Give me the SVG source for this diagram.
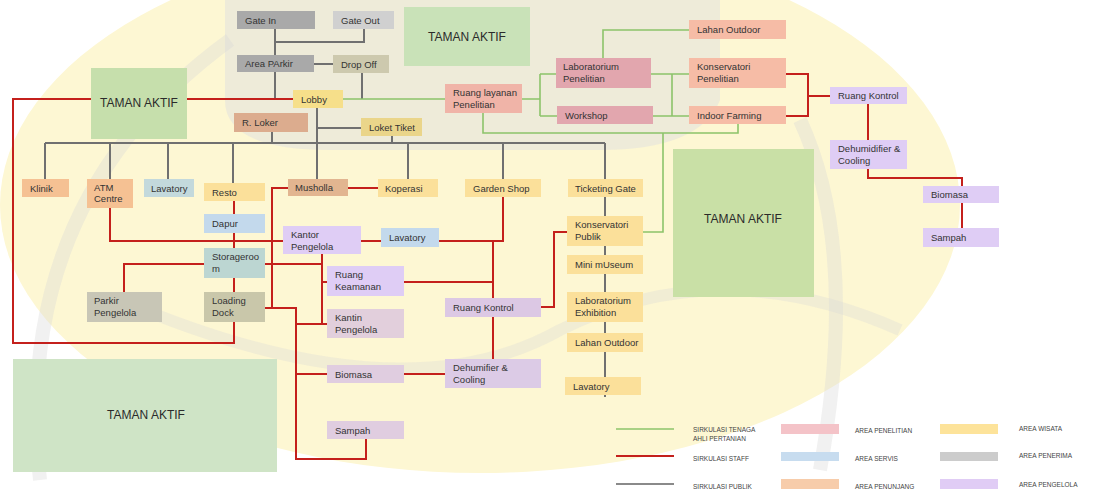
<svg xmlns="http://www.w3.org/2000/svg" width="1093" height="490" viewBox="0 0 1093 490">
  <style>
    text { font-family: "Liberation Sans", Arial, sans-serif; font-size: 9.5px; fill: #333; }
    .park text, text.park { font-size: 12px; fill: #2b2b2b; text-anchor: middle; }
    .leg { font-size: 6.5px; fill: #444; }
    .pub { fill: none; stroke: #707070; stroke-width: 2; }
    .stf { fill: none; stroke: #c4201c; stroke-width: 2; }
    .ahli { fill: none; stroke: #8cc46a; stroke-width: 1.6; }
    .penerima { fill: #a9a9a9; }
    .penerima2 { fill: #d0d0d0; }
    .wisata { fill: #fbe09a; }
    .servis { fill: #c3d9ec; }
    .penunjang { fill: #f5c193; }
    .peneliti { fill: #e2a6ae; }
    .penunjang2 { fill: #f6bca6; }
    .pengelola { fill: #dfcdf5; }
    .pengelola2 { fill: #e0cde0; }
  </style>

  <rect width="1093" height="490" fill="#ffffff"/>

  <!-- faint seal watermark behind the plan -->
  <g id="watermark">
    <ellipse cx="480" cy="205" rx="480" ry="268" fill="#fdf7d3"/>
    <path d="M225,0 H720 V100 Q700,150 600,150 H330 Q225,150 225,100 Z" fill="#e0e0e0" opacity="0.5"/>
    <path d="M40,480 Q10,200 230,40" fill="none" stroke="#d6d6d6" stroke-width="14" opacity="0.35"/>
    <path d="M820,470 Q860,250 800,120" fill="none" stroke="#d6d6d6" stroke-width="14" opacity="0.35"/>
    <path d="M120,300 Q400,420 560,330 Q720,250 900,330" fill="none" stroke="#d6d6d6" stroke-width="12" opacity="0.3"/>
  </g>

  <!-- open park areas -->
  <g id="taman-kiri"><rect x="91" y="68" width="96" height="71" fill="#c6dfac"/><text class="park" x="139" y="107">TAMAN AKTIF</text></g>
  <g id="taman-atas"><rect x="404" y="7" width="126" height="59" fill="#c9e2b8"/><text class="park" x="467" y="41">TAMAN AKTIF</text></g>
  <g id="taman-kanan"><rect x="673" y="149" width="141" height="148" fill="#c9e0a6"/><text class="park" x="743" y="223">TAMAN AKTIF</text></g>
  <g id="taman-bawah"><rect x="13" y="359" width="264" height="113" fill="#cfe4c6"/><text class="park" x="146" y="419">TAMAN AKTIF</text></g>

  <!-- circulation lines -->
  <g id="connectors">
    <!-- public circulation -->
    <path class="pub" d="M275,29 V55 M275,42 H364 V29 M314,64 H333 M275,72 V99 M362,73 V99"/>
    <path class="pub" d="M317,108 V179 M317,128 H361 M45,143 H605 M272,132 V143 M392,136 V143"/>
    <path class="pub" d="M45,143 V179 M110,143 V179 M168,143 V179 M233,143 V183 M408,143 V179 M503,143 V179 M605,143 V397"/>

    <!-- research staff circulation -->
    <path class="ahli" d="M343,99 H445 M522,99 H540 M540,74 V116 M540,74 H556 M540,116 H557"/>
    <path class="ahli" d="M603,58 V30 H689 M651,74 H689 M653,116 H689 M672,74 V116"/>
    <path class="ahli" d="M483,113 V133 H738 V124 M663,133 V232 H643"/>

    <!-- staff circulation -->
    <path class="stf" d="M293,99 H187 M91,99 H13 V343 H234 V322"/>
    <path class="stf" d="M786,74 H808 V116 H786 M808,96 H830 M868,104 V140 M868,169 V178 H962 V186 M962,203 V228"/>
    <path class="stf" d="M234,201 V292 M110,208 V241 H283 M361,241 H382 M439,241 H503 V197 M493,241 V298 M404,282 H493"/>
    <path class="stf" d="M204,264 H124 V292 M265,264 H322 M322,254 V324 M322,282 H327 M296,324 H327"/>
    <path class="stf" d="M288,188 H272 V308 M265,308 H296 V459 H366 V439 M296,374 H327 M348,188 H378"/>
    <path class="stf" d="M541,307 H554 V232 H567 M493,317 V359 M404,374 H445"/>
  </g>

  <!-- arrival -->
  <g id="gate-in"><rect class="penerima" x="237" y="11" width="78" height="18"/><text x="245" y="23.5">Gate In</text></g>
  <g id="gate-out"><rect class="penerima2" x="333" y="11" width="61" height="18"/><text x="341" y="23.5">Gate Out</text></g>
  <g id="area-parkir"><rect class="penerima" x="237" y="55" width="77" height="17"/><text x="245" y="67">Area PArkir</text></g>
  <g id="drop-off"><rect x="333" y="55" width="56" height="18" fill="#cdc9ae"/><text x="341" y="67.5">Drop Off</text></g>
  <g id="lobby"><rect x="293" y="90" width="50" height="18" fill="#f6df8a"/><text x="301" y="102.5">Lobby</text></g>
  <g id="r-loker"><rect x="234" y="113" width="74" height="19" fill="#dcac8e"/><text x="242" y="126">R. Loker</text></g>
  <g id="loket-tiket"><rect x="361" y="118" width="61" height="18" fill="#ead58a"/><text x="369" y="130.5">Loket Tiket</text></g>

  <!-- public row -->
  <g id="klinik"><rect class="penunjang" x="22" y="179" width="47" height="18"/><text x="30" y="191.5">Klinik</text></g>
  <g id="atm"><rect class="penunjang" x="87" y="179" width="46" height="29"/><text x="94" y="191">ATM</text><text x="94" y="202">Centre</text></g>
  <g id="lavatory-1"><rect x="144" y="179" width="50" height="18" fill="#c3d9dc"/><text x="151" y="191.5">Lavatory</text></g>
  <g id="resto"><rect class="wisata" x="204" y="183" width="61" height="18"/><text x="212" y="195.5">Resto</text></g>
  <g id="musholla"><rect x="288" y="179" width="60" height="17" fill="#e2b590"/><text x="295" y="191">Musholla</text></g>
  <g id="koperasi"><rect class="wisata" x="378" y="179" width="60" height="18"/><text x="385" y="191.5">Koperasi</text></g>
  <g id="garden-shop"><rect class="wisata" x="465" y="179" width="76" height="18"/><text x="473" y="191.5">Garden Shop</text></g>
  <g id="ticketing-gate"><rect class="wisata" x="568" y="179" width="75" height="18"/><text x="575" y="191.5">Ticketing Gate</text></g>

  <!-- service and management -->
  <g id="dapur"><rect class="servis" x="204" y="214" width="61" height="19"/><text x="212" y="227">Dapur</text></g>
  <g id="storageroom"><rect x="204" y="248" width="61" height="30" fill="#bcd6d2"/><text x="212" y="260">Storageroo</text><text x="212" y="271.5">m</text></g>
  <g id="loading-dock"><rect x="204" y="292" width="61" height="30" fill="#c9c7aa"/><text x="212" y="304">Loading</text><text x="212" y="315.5">Dock</text></g>
  <g id="parkir-pengelola"><rect x="87" y="292" width="75" height="30" fill="#c8c6b6"/><text x="94" y="304">Parkir</text><text x="94" y="315.5">Pengelola</text></g>
  <g id="kantor-pengelola"><rect class="pengelola" x="283" y="226" width="78" height="28"/><text x="291" y="238">Kantor</text><text x="291" y="249.5">Pengelola</text></g>
  <g id="lavatory-2"><rect class="servis" x="381" y="228" width="58" height="19"/><text x="389" y="241">Lavatory</text></g>
  <g id="ruang-keamanan"><rect class="pengelola" x="327" y="266" width="77" height="30"/><text x="335" y="278">Ruang</text><text x="335" y="289.5">Keamanan</text></g>
  <g id="kantin-pengelola"><rect x="327" y="309" width="77" height="29" fill="#e2cfdc"/><text x="335" y="321">Kantin</text><text x="335" y="332.5">Pengelola</text></g>
  <g id="ruang-kontrol-1"><rect x="445" y="298" width="96" height="19" fill="#dcc8e4"/><text x="453" y="311">Ruang Kontrol</text></g>
  <g id="biomasa-1"><rect class="pengelola2" x="327" y="365" width="77" height="18"/><text x="335" y="377.5">Biomasa</text></g>
  <g id="dehumifier-1"><rect x="445" y="359" width="96" height="29" fill="#dccbe6"/><text x="453" y="371">Dehumifier &amp;</text><text x="453" y="382.5">Cooling</text></g>
  <g id="sampah-1"><rect class="pengelola2" x="327" y="421" width="77" height="18"/><text x="335" y="433.5">Sampah</text></g>

  <!-- tourism column -->
  <g id="konservatori-publik"><rect class="wisata" x="567" y="216" width="76" height="30"/><text x="575" y="228">Konservatori</text><text x="575" y="239.5">Publik</text></g>
  <g id="mini-museum"><rect class="wisata" x="567" y="255" width="76" height="19"/><text x="575" y="268">Mini mUseum</text></g>
  <g id="lab-exhibition"><rect class="wisata" x="567" y="292" width="76" height="30"/><text x="575" y="304">Laboratorium</text><text x="575" y="315.5">Exhibition</text></g>
  <g id="lahan-outdoor-1"><rect class="wisata" x="567" y="333" width="76" height="19"/><text x="575" y="346">Lahan Outdoor</text></g>
  <g id="lavatory-3"><rect class="wisata" x="565" y="377" width="76" height="18"/><text x="573" y="389.5">Lavatory</text></g>

  <!-- research -->
  <g id="ruang-layanan"><rect x="445" y="84" width="77" height="29" fill="#f0b4a8"/><text x="453" y="96">Ruang layanan</text><text x="453" y="107.5">Penelitian</text></g>
  <g id="lab-penelitian"><rect class="peneliti" x="556" y="58" width="95" height="30"/><text x="563" y="70">Laboratorium</text><text x="563" y="81.5">Penelitian</text></g>
  <g id="workshop"><rect class="peneliti" x="557" y="106" width="96" height="18"/><text x="565" y="118.5">Workshop</text></g>
  <g id="lahan-outdoor-2"><rect class="penunjang2" x="689" y="20" width="97" height="19"/><text x="697" y="33">Lahan Outdoor</text></g>
  <g id="konservatori-penelitian"><rect class="penunjang2" x="689" y="58" width="97" height="30"/><text x="697" y="70">Konservatori</text><text x="697" y="81.5">Penelitian</text></g>
  <g id="indoor-farming"><rect class="penunjang2" x="689" y="106" width="97" height="18"/><text x="697" y="118.5">Indoor Farming</text></g>

  <!-- research plant room -->
  <g id="ruang-kontrol-2"><rect class="pengelola" x="830" y="87" width="77" height="17"/><text x="838" y="99">Ruang Kontrol</text></g>
  <g id="dehumidifier-2"><rect class="pengelola" x="830" y="140" width="77" height="29"/><text x="838" y="152">Dehumidifier &amp;</text><text x="838" y="163.5">Cooling</text></g>
  <g id="biomasa-2"><rect class="pengelola" x="923" y="186" width="76" height="17"/><text x="931" y="198">Biomasa</text></g>
  <g id="sampah-2"><rect class="pengelola" x="923" y="228" width="76" height="19"/><text x="931" y="241">Sampah</text></g>

  <!-- key -->
  <g id="legend">
    <line x1="616" y1="429" x2="674" y2="429" stroke="#8cc46a" stroke-width="1.6"/>
    <line x1="616" y1="456" x2="674" y2="456" stroke="#c4201c" stroke-width="2"/>
    <line x1="616" y1="484" x2="674" y2="484" stroke="#8a8a8a" stroke-width="2"/>
    <text class="leg" x="693" y="432">SIRKULASI TENAGA</text>
    <text class="leg" x="693" y="441">AHLI PERTANIAN</text>
    <text class="leg" x="693" y="461">SIRKULASI STAFF</text>
    <text class="leg" x="693" y="489">SIRKULASI PUBLIK</text>
    <rect x="781" y="424" width="58" height="10" fill="#f4c3c8"/>
    <rect x="781" y="452" width="58" height="9" fill="#c7dcef"/>
    <rect x="781" y="479" width="58" height="10" fill="#f7ccaa"/>
    <text class="leg" x="855" y="433">AREA PENELITIAN</text>
    <text class="leg" x="855" y="461">AREA SERVIS</text>
    <text class="leg" x="855" y="489">AREA PENUNJANG</text>
    <rect x="940" y="424" width="58" height="10" fill="#fde39a"/>
    <rect x="940" y="452" width="58" height="9" fill="#cccccc"/>
    <rect x="940" y="479" width="58" height="10" fill="#e0ccf5"/>
    <text class="leg" x="1019" y="431">AREA WISATA</text>
    <text class="leg" x="1019" y="458">AREA PENERIMA</text>
    <text class="leg" x="1019" y="487">AREA PENGELOLA</text>
  </g>
</svg>
